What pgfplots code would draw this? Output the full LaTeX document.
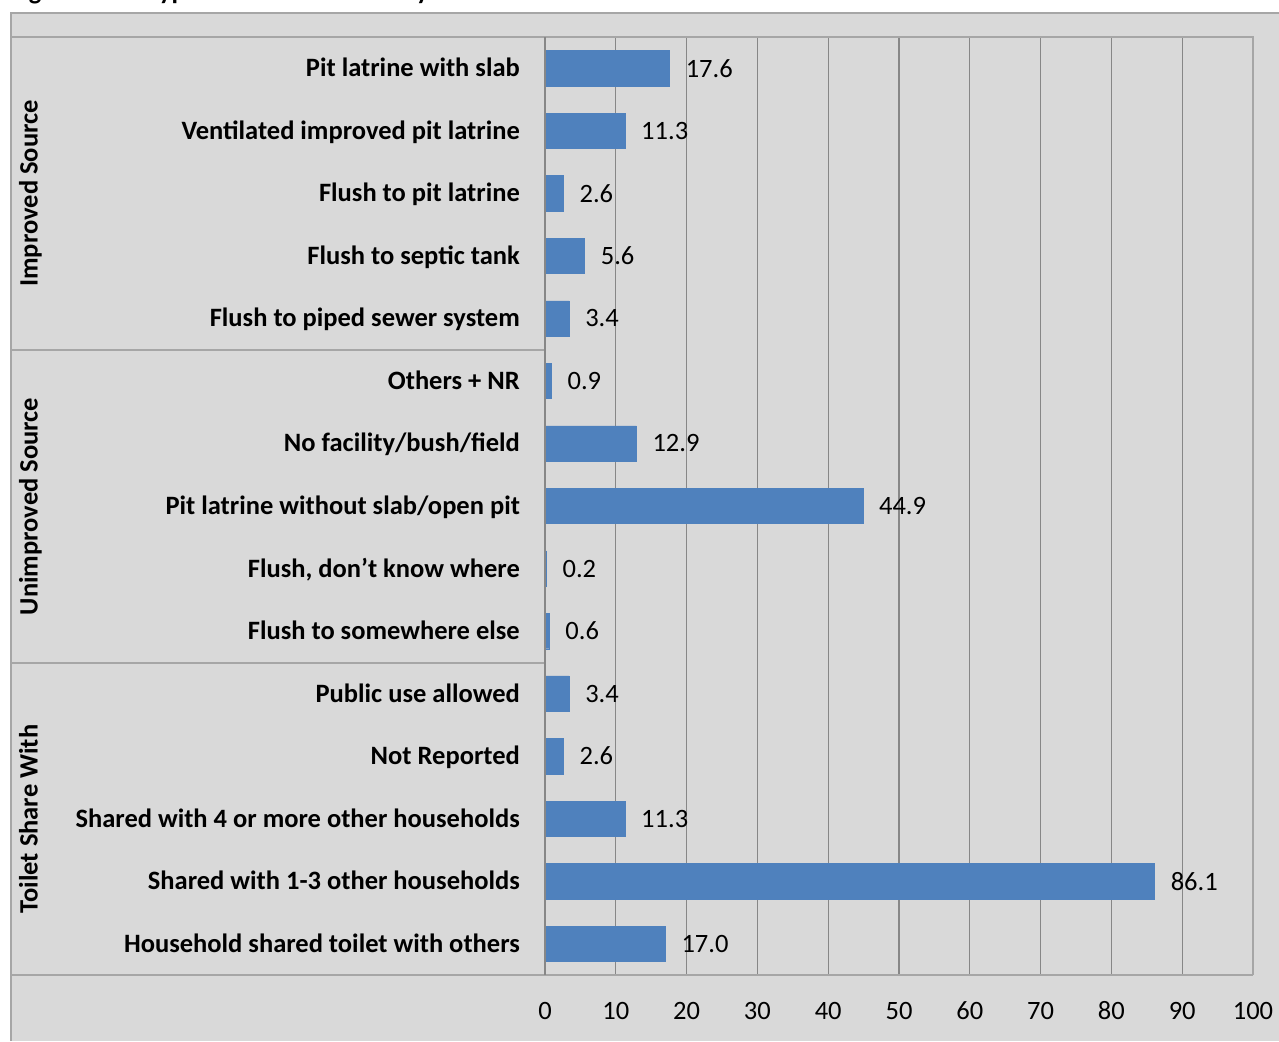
\documentclass[border=0pt]{standalone}
\usepackage{pgfplots}
\pgfplotsset{compat=1.18}
\usepackage{fontspec}
\setmainfont{Carlito}
\definecolor{bg}{HTML}{D9D9D9}
\definecolor{frm}{HTML}{A6A6A6}
\definecolor{grd}{HTML}{878787}
\definecolor{barblue}{HTML}{4F81BD}
\newcommand{\fs}{\fontsize{26.5}{31}\selectfont}
\begin{document}
\begin{tikzpicture}[x=1pt,y=1pt]
\path[use as bounding box] (0,0) rectangle (1279,1041);
\clip (0,0) rectangle (1279,1041);
\fill[bg] (10,0) rectangle (1279,1029);
\node[anchor=base west, inner sep=0pt, font=\fs\bfseries] at (10,1041) {Figure 4.12: Type of Sanitation Facility};
\begin{axis}[
 at={(545pt,66pt)}, anchor=south west, scale only axis, width=708pt, height=938pt,
 xbar, bar width=35.3pt, bar shift=0pt,
 xmin=0, xmax=100, ymin=0.5, ymax=15.5, y dir=reverse,
 xtick={0,10,...,100}, ytick={1,...,15},
 yticklabels={Pit latrine with slab, Ventilated improved pit latrine, Flush to pit latrine, Flush to septic tank, Flush to piped sewer system, Others + NR, No facility/bush/field, Pit latrine without slab/open pit, {Flush, don’t know where}, Flush to somewhere else, Public use allowed, Not Reported, Shared with 4 or more other households, Shared with 1-3 other households, Household shared toilet with others},
 axis line style={draw=none}, major tick length=0pt,
 xmajorgrids, major grid style={draw=grd, line width=1.2pt},
 /pgf/number format/assume math mode=true,
 xticklabel style={font=\fs, anchor=base, inner sep=0pt, yshift=-44pt},
 yticklabel style={font=\fs\bfseries, anchor=base east, inner sep=0pt, xshift=-25pt, yshift=-8.5pt},
 clip=false,
 ]
\addplot[fill=barblue, draw=barblue, point meta=x,
  nodes near coords={\pgfmathprintnumber[fixed,fixed zerofill,precision=1]{\pgfplotspointmeta}},
  nodes near coords style={anchor=west, inner sep=0pt, xshift=16pt, font=\fs, text=black}]
  coordinates {(17.6,1) (11.3,2) (2.6,3) (5.6,4) (3.4,5) (0.9,6) (12.9,7) (44.9,8) (0.2,9) (0.6,10) (3.4,11) (2.6,12) (11.3,13) (86.1,14) (17.0,15)};
\end{axis}
\draw[frm, line width=1.5pt] (10,1004) -- (1253,1004) -- (1253,66);
\draw[frm, line width=1.5pt] (10,66) -- (1253,66);
\draw[frm, line width=1.5pt] (10,691) -- (545,691);
\draw[frm, line width=1.5pt] (10,378) -- (545,378);
\draw[grd, line width=1.2pt] (545,66) -- (545,1004);
\draw[frm, line width=2pt] (11,0) -- (11,1028) -- (1279,1028);
\node[rotate=90, anchor=base, font=\fs\bfseries, inner sep=0pt] at (37.5,847.5) {Improved Source};
\node[rotate=90, anchor=base, font=\fs\bfseries, inner sep=0pt] at (37.5,534.5) {Unimproved Source};
\node[rotate=90, anchor=base, font=\fs\bfseries, inner sep=0pt] at (37.5,222) {Toilet Share With};
\end{tikzpicture}
\end{document}
